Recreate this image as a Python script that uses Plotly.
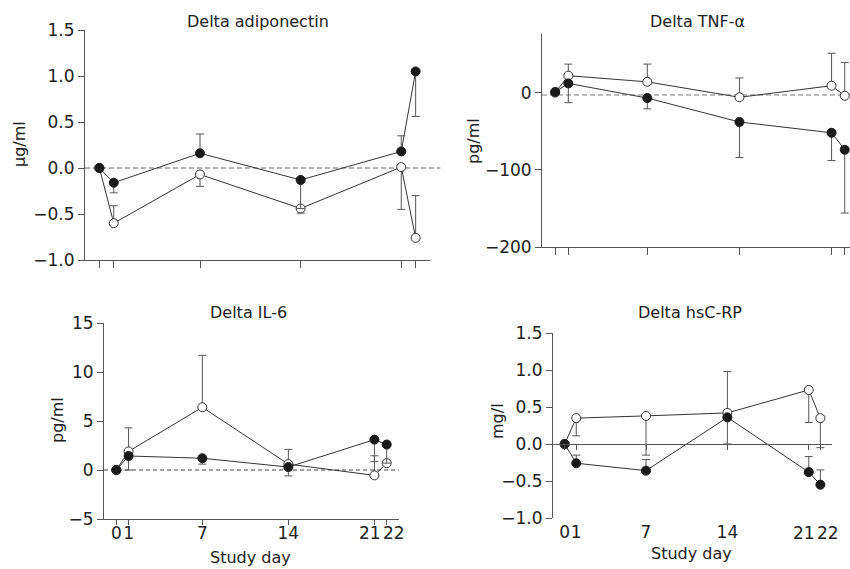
import plotly.graph_objects as go

days = [0, 1, 7, 14, 21, 22]
day_labels = ["0", "1", "7", "14", "21", "22"]

# Delta adiponectin (µg/ml)
adipo_filled = [0.0, -0.16, 0.16, -0.13, 0.18, 1.05]
adipo_filled_up = [0, 0, 0.21, 0, 0.17, 0]
adipo_filled_dn = [0, 0.11, 0, 0.31, 0, 0.49]
adipo_open = [0.0, -0.60, -0.07, -0.44, 0.01, -0.76]
adipo_open_up = [0, 0.19, 0, 0, 0, 0.46]
adipo_open_dn = [0, 0, 0.13, 0.05, 0.46, 0]

# Delta TNF-alpha (pg/ml)
tnf_filled = [1, 12, -7, -38, -52, -74]
tnf_filled_up = [0, 0, 0, 0, 0, 0]
tnf_filled_dn = [0, 25, 14, 46, 36, 82]
tnf_open = [0, 22, 14, -6, 9, -4]
tnf_open_up = [0, 15, 23, 25, 42, 43]
tnf_open_dn = [0, 0, 0, 0, 0, 0]

# Delta IL-6 (pg/ml)
il6_filled = [0.0, 1.43, 1.2, 0.3, 3.1, 2.6]
il6_filled_up = [0, 0, 0, 0, 0, 0]
il6_filled_dn = [0, 1.43, 0.6, 0.9, 2.25, 1.9]
il6_open = [0.0, 1.9, 6.4, 0.6, -0.55, 0.7]
il6_open_up = [0, 2.4, 5.3, 1.5, 2.0, 0]
il6_open_dn = [0, 0, 0, 0, 0, 0]

# Delta hsC-RP (mg/l)
crp_filled = [0.0, -0.26, -0.36, 0.36, -0.38, -0.55]
crp_filled_up = [0, 0.11, 0.15, 0, 0.21, 0.20]
crp_filled_dn = [0, 0, 0, 0.36, 0, 0]
crp_open = [0.0, 0.35, 0.38, 0.42, 0.73, 0.35]
crp_open_up = [0, 0, 0, 0.56, 0, 0]
crp_open_dn = [0, 0.24, 0.53, 0, 0.44, 0.40]

# the page's body margin is removed by the post script, so layout in window pixels
OFF = 0
W, H = 850 - OFF, 569 - OFF
LINE = "#333333"
AX = "#555555"
FONT = "DejaVu Sans, Liberation Sans, Arial, sans-serif"
TXT = "#222222"
TICKSIZE = 17
TEXTSIZE = 16

def px(x):
    return (x - OFF) / W

def py(y):
    return 1 - (y - OFF) / H

fig = go.Figure()

panels = [
    ("x", "y", adipo_filled, adipo_filled_up, adipo_filled_dn, adipo_open, adipo_open_up, adipo_open_dn),
    ("x2", "y2", tnf_filled, tnf_filled_up, tnf_filled_dn, tnf_open, tnf_open_up, tnf_open_dn),
    ("x3", "y3", il6_filled, il6_filled_up, il6_filled_dn, il6_open, il6_open_up, il6_open_dn),
    ("x4", "y4", crp_filled, crp_filled_up, crp_filled_dn, crp_open, crp_open_up, crp_open_dn),
]

for xa, ya, f, fu, fd, o, ou, od in panels:
    fig.add_trace(go.Scatter(
        x=days, y=o, xaxis=xa, yaxis=ya, mode="lines+markers", cliponaxis=False,
        line=dict(color=LINE, width=1),
        marker=dict(symbol="circle", size=9, color="white", line=dict(color=LINE, width=1)),
        error_y=dict(type="data", symmetric=False, array=ou, arrayminus=od,
                     color=AX, thickness=1, width=4),
        showlegend=False, hoverinfo="skip"))
    fig.add_trace(go.Scatter(
        x=days, y=f, xaxis=xa, yaxis=ya, mode="lines+markers", cliponaxis=False,
        line=dict(color=LINE, width=1),
        marker=dict(symbol="circle", size=9, color="#1a1a1a", line=dict(color="#1a1a1a", width=1)),
        error_y=dict(type="data", symmetric=False, array=fu, arrayminus=fd,
                     color=AX, thickness=1, width=4),
        showlegend=False, hoverinfo="skip"))

# invisible trace to hold the zero-crossing axis of panel 4
fig.add_trace(go.Scatter(x=[0], y=[0], xaxis="x5", yaxis="y4", mode="markers",
                         marker=dict(size=1, color="rgba(0,0,0,0)"),
                         showlegend=False, hoverinfo="skip"))

# the two closely spaced last days get their labels as side-by-side annotations
bottom_text = day_labels[:4] + ["", ""]

common_x = dict(tickvals=days, ticktext=bottom_text, showgrid=False, zeroline=False,
                showline=True, linecolor=AX, linewidth=1, ticks="outside", ticklen=7,
                tickcolor=AX, tickangle=0, automargin=False,
                tickfont=dict(size=TICKSIZE, color=TXT, family=FONT))
common_y = dict(showgrid=False, zeroline=False, showline=True, linecolor=AX, linewidth=1,
                ticks="outside", ticklen=6, tickcolor=AX, automargin=False,
                tickfont=dict(size=TICKSIZE, color=TXT, family=FONT))

fig.update_layout(
    width=W, height=H, margin=dict(l=0, r=0, t=0, b=0, autoexpand=False),
    paper_bgcolor="white", plot_bgcolor="white",
    font=dict(family=FONT, color=TXT, size=TEXTSIZE),
    hovermode=False,
    xaxis=dict(common_x, domain=[px(85), px(430)], range=[-1, 23], anchor="y", showticklabels=False),
    yaxis=dict(common_y, domain=[py(260), py(30)], range=[-1, 1.5], anchor="x",
               tickvals=[-1, -0.5, 0, 0.5, 1, 1.5], tickformat=".1f"),
    xaxis2=dict(common_x, domain=[px(542), 1.0], range=[-1, 22.4], anchor="y2", showticklabels=False),
    yaxis2=dict(common_y, domain=[py(247), py(34)], range=[-200, 76], anchor="x2",
                tickvals=[-200, -100, 0]),
    xaxis3=dict(common_x, domain=[px(104), px(399)], range=[-1, 23], anchor="y3", ticklen=5,
                ticklabelstandoff=-6),
    yaxis3=dict(common_y, domain=[py(519), py(323)], range=[-5, 15], anchor="x3",
                tickvals=[-5, 0, 5, 10, 15]),
    xaxis4=dict(common_x, domain=[px(553), px(832)], range=[-1, 23], anchor="y4",
                showline=False, ticklen=5, tickcolor="rgba(0,0,0,0)", ticklabelstandoff=-6),
    yaxis4=dict(common_y, domain=[py(518), py(333)], range=[-1, 1.5], anchor="x4",
                tickvals=[-1, -0.5, 0, 0.5, 1, 1.5], tickformat=".1f"),
    xaxis5=dict(tickvals=days, showgrid=False, zeroline=False, showline=True, linecolor=AX,
                linewidth=1, ticks="outside", ticklen=5, tickcolor=AX, showticklabels=False,
                automargin=False,
                domain=[px(553), px(832)], range=[-1, 23], overlaying="x4",
                anchor="free", position=py(444.3)),
)

# dashed reference lines at zero
fig.add_shape(type="line", xref="x domain", yref="y", x0=0, x1=1.03, y0=0, y1=0,
              line=dict(color="#666666", width=1, dash="5px,3px"), layer="below")
fig.add_shape(type="line", xref="x2 domain", yref="y2", x0=0, x1=1, y0=-3, y1=-3,
              line=dict(color="#777777", width=1, dash="5px,3px"), layer="below")
fig.add_shape(type="line", xref="x3 domain", yref="y3", x0=0, x1=1, y0=0, y1=0,
              line=dict(color="#444444", width=1, dash="4px,3px"), layer="below")

def ann(text, x, y, angle=0, size=TEXTSIZE):
    fig.add_annotation(text=text, x=px(x), y=py(y), xref="paper", yref="paper",
                       showarrow=False, textangle=angle,
                       font=dict(size=size, color=TXT, family=FONT),
                       xanchor="center", yanchor="middle")

ann("Delta adiponectin", 258, 22)
ann("Delta TNF-α", 697, 22)
ann("Delta IL-6", 248, 312)
ann("Delta hsC-RP", 690, 312)
ann("μg/ml", 20, 144, -90)
ann("pg/ml", 473, 141, -90)
ann("pg/ml", 57, 420, -90)
ann("mg/l", 497, 421, -90)
ann("Study day", 250, 557)
ann("Study day", 691, 553)

# "21" and "22" labels, placed against each other between their ticks
for xa in ("x3", "x4"):
    mid = (days[4] + days[5]) / 2
    fig.add_annotation(text=day_labels[4], x=mid, y=py(533), xref=xa, yref="paper",
                       showarrow=False, xanchor="right", yanchor="middle", borderpad=0,
                       xshift=1, font=dict(size=TICKSIZE, color=TXT, family=FONT))
    fig.add_annotation(text=day_labels[5], x=mid, y=py(533), xref=xa, yref="paper",
                       showarrow=False, xanchor="left", yanchor="middle", borderpad=0,
                       xshift=1, font=dict(size=TICKSIZE, color=TXT, family=FONT))

fig.write_html("out.html", config={"displayModeBar": False, "staticPlot": True},
               post_script="document.body.style.margin='0';document.body.style.overflow='hidden';")
